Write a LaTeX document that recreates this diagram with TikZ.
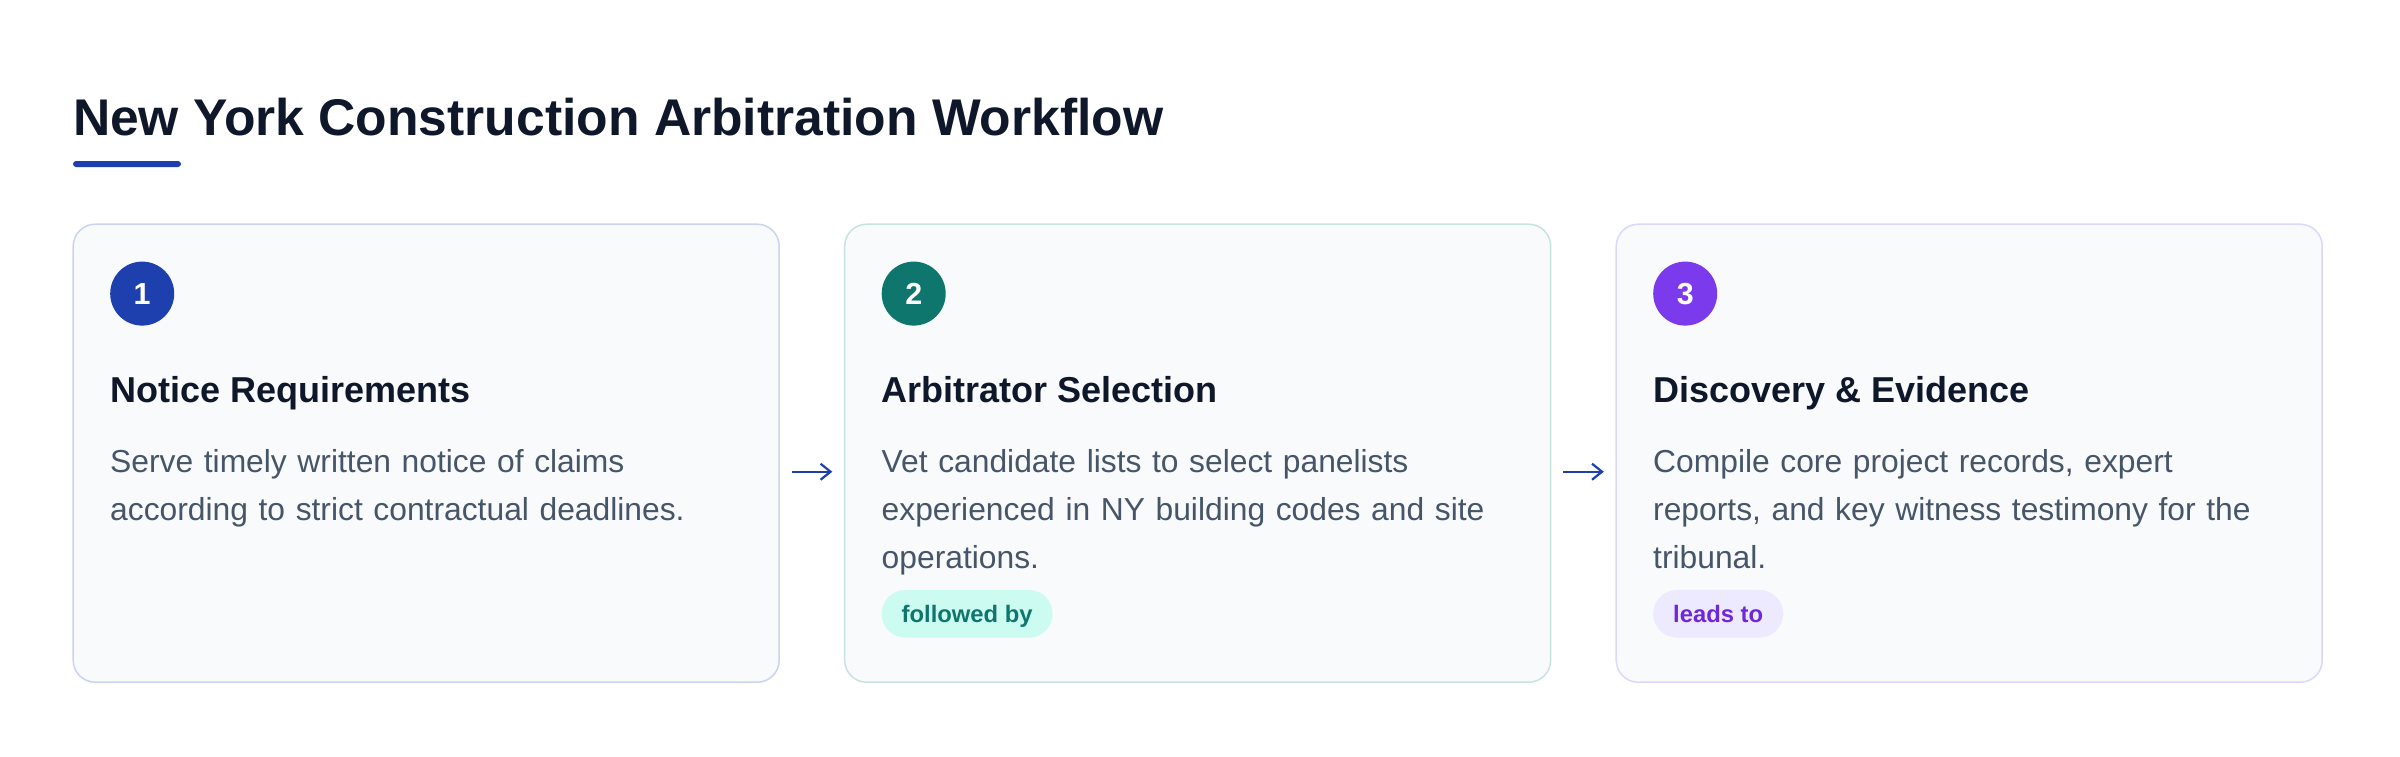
\documentclass[tikz,border=0pt]{standalone}
\usepackage{fontspec}
\setmainfont{Liberation Sans}
\usetikzlibrary{positioning,arrows.meta}
\definecolor{ink}{HTML}{0F172A}
\definecolor{slate}{HTML}{475569}
\definecolor{paper}{HTML}{F8FAFC}
\definecolor{blueA}{HTML}{1E40AF}
\definecolor{tealA}{HTML}{0F766E}
\definecolor{violetA}{HTML}{7C3AED}
\definecolor{violetD}{HTML}{6D28D9}
\definecolor{blueL}{HTML}{CBD3F2}
\definecolor{tealL}{HTML}{C8E3DF}
\definecolor{violetL}{HTML}{DDD6FE}
\definecolor{mint}{HTML}{CCFBF1}
\definecolor{lilac}{HTML}{EDE9FE}
\def\bodyfont{\fontsize{15.9}{23.85}\selectfont}
\def\nl{\\}

\begin{document}
\begin{tikzpicture}[node distance=385.75pt,on grid,outer sep=0pt,
	card/.style={draw,fill=paper,line width=0.75pt,rounded corners=11pt,minimum width=353pt,minimum height=229pt,inner sep=0pt},
	num/.style={circle,minimum size=32pt,inner sep=0pt,text=white,font=\fontsize{15.2}{18}\selectfont\bfseries},
	head/.style={inner sep=0pt,text=ink,font=\fontsize{18}{22}\selectfont\bfseries},
	desc/.style={inner sep=0pt,text=slate,text width=320pt,align=left,font=\bodyfont},
	tag/.style={rounded corners=11.9pt,minimum height=23.85pt,inner xsep=10pt,inner ysep=0pt,text height=8.8pt,text depth=0pt,font=\fontsize{11.9}{14}\selectfont\bfseries},
	link/.style={draw=blueA,line width=1.1pt,-{Straight Barb[length=5pt,width=8pt]},shorten <=6.2pt,shorten >=6.2pt}]
\path[use as bounding box,fill=white] (0,0) rectangle (1200pt,-378pt);
\node[inner sep=0pt,text=ink,font=\fontsize{25.8}{31}\selectfont\bfseries,anchor=base west]	(t_0)	at (36.5pt,-67.5pt)			{New York Construction Arbitration Workflow};
\node[fill=blueA,rounded corners=1.5pt,minimum width=54pt,minimum height=3pt,inner sep=0pt]	(u_0)	[below=14.5pt of t_0.base west,anchor=west]	{};
\node[card,draw=blueL]		(s_1)	at (213.1pt,-226.6pt)							{};
\node[card,draw=tealL]		(s_2)	[right=of s_1]									{};
\node[card,draw=violetL]	(s_3)	[right=of s_2]									{};
\node[num,fill=blueA]		(n_1)	[below right=34.7pt and 34.5pt of s_1.north west,anchor=center]	{1};
\node[num,fill=tealA]		(n_2)	[below right=34.7pt and 34.5pt of s_2.north west,anchor=center]	{2};
\node[num,fill=violetA]		(n_3)	[below right=34.7pt and 34.5pt of s_3.north west,anchor=center]	{3};
\node[head]					(h_1)	[below right=89.35pt and 18.5pt of s_1.north west,anchor=base west]	{Notice Requirements};
\node[head]					(h_2)	[below right=89.35pt and 18.5pt of s_2.north west,anchor=base west]	{Arbitrator Selection};
\node[head]					(h_3)	[below right=89.35pt and 18.5pt of s_3.north west,anchor=base west]	{Discovery \& Evidence};
\node[desc]					(d_1)	[below right=124.35pt and 18.5pt of s_1.north west,anchor=base west]	{Serve timely written notice of claims\nl according to strict contractual deadlines.};
\node[desc]					(d_2)	[below right=124.35pt and 18.5pt of s_2.north west,anchor=base west]	{Vet candidate lists to select panelists\nl experienced in NY building codes and site\nl operations.};
\node[desc]					(d_3)	[below right=124.35pt and 18.5pt of s_3.north west,anchor=base west]	{Compile core project records, expert\nl reports, and key witness testimony for the\nl tribunal.};
\node[tag,fill=mint,text=tealA]		(b_2)	[below right=194.8pt and 18.5pt of s_2.north west,anchor=west]	{followed by};
\node[tag,fill=lilac,text=violetD]	(b_3)	[below right=194.8pt and 18.5pt of s_3.north west,anchor=west]	{leads to};
\path
([yshift=-9.25pt]s_1.east)	edge[link]	([yshift=-9.25pt]s_2.west)
([yshift=-9.25pt]s_2.east)	edge[link]	([yshift=-9.25pt]s_3.west)
;
\end{tikzpicture}
\end{document}
